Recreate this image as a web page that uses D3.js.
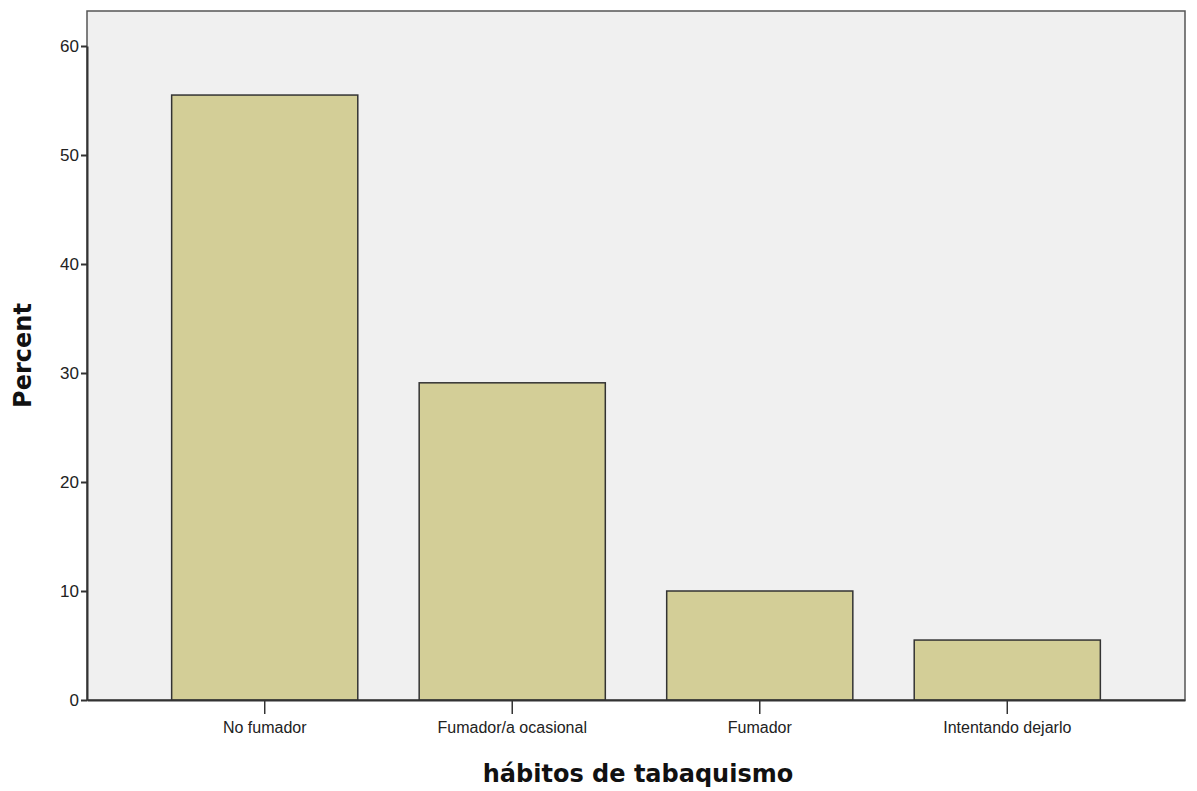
<!DOCTYPE html>
<html>
<head>
<meta charset="utf-8">
<script src="https://cdn.jsdelivr.net/npm/d3@7"></script>
<style>
  body { margin: 0; background: #fff; }
  svg { display: block; }
</style>
</head>
<body>
<svg width="1197" height="791"></svg>
<script>
// data
var categories = ["No fumador", "Fumador/a ocasional", "Fumador", "Intentando dejarlo"];
var percents = [55.5, 29.1, 10.0, 5.5];
var yTicks = [0, 10, 20, 30, 40, 50, 60];

var svg = d3.select("svg");

// plot frame (note: "top" is taken by window.top)
var plotLeft = 87, plotRight = 1185, plotTop = 11, plotBottom = 700;

var x = d3.scaleBand()
    .domain(categories)
    .range([plotLeft, plotRight])
    .paddingInner(0.248)
    .paddingOuter(0.342);

var y = d3.scaleLinear()
    .domain([0, 60])
    .range([plotBottom, plotBottom - 654]);

// plot background
svg.append("rect")
    .attr("x", plotLeft)
    .attr("y", plotTop)
    .attr("width", plotRight - plotLeft)
    .attr("height", plotBottom - plotTop)
    .style("fill", "#f0f0f0")
    .style("stroke", "#555")
    .style("stroke-width", 1.5);

// bars
svg.selectAll(".bar")
    .data(percents)
    .enter().append("rect")
    .attr("class", "bar")
    .attr("x", function(d, i) { return x(categories[i]); })
    .attr("y", function(d) { return y(d); })
    .attr("width", x.bandwidth())
    .attr("height", function(d) { return plotBottom - y(d); })
    .style("fill", "#d3ce97")
    .style("stroke", "#333")
    .style("stroke-width", 1.5);

// y axis
var yAxis = svg.append("g")
    .attr("transform", "translate(" + plotLeft + ",0)")
    .call(d3.axisLeft(y).tickValues(yTicks).tickSize(6).tickPadding(2).tickSizeOuter(0));
yAxis.select(".domain").attr("stroke", "#333").attr("stroke-width", 2);
yAxis.selectAll(".tick line").attr("stroke", "#333").attr("stroke-width", 2);
yAxis.selectAll("text")
    .style("font-family", "Liberation Sans, Arial, sans-serif")
    .style("font-size", "17px")
    .style("fill", "#222");

// x axis
var xAxis = svg.append("g")
    .attr("transform", "translate(0," + plotBottom + ")")
    .call(d3.axisBottom(x).tickSize(14).tickPadding(8).tickSizeOuter(0));
xAxis.select(".domain").attr("stroke", "#333").attr("stroke-width", 2);
xAxis.selectAll(".tick line").attr("stroke", "#333").attr("stroke-width", 1.5);
xAxis.selectAll("text")
    .style("font-family", "Liberation Sans, Arial, sans-serif")
    .style("font-size", "16px")
    .style("fill", "#222");

// axis titles
svg.append("text")
    .attr("transform", "translate(31," + (plotTop + plotBottom) / 2 + ") rotate(-90)")
    .attr("text-anchor", "middle")
    .style("font-family", "DejaVu Sans, Verdana, sans-serif")
    .style("font-weight", "bold")
    .style("font-size", "24px")
    .style("fill", "#111")
    .text("Percent");

svg.append("text")
    .attr("x", 638)
    .attr("y", 782)
    .attr("text-anchor", "middle")
    .style("font-family", "DejaVu Sans, Verdana, sans-serif")
    .style("font-weight", "bold")
    .style("font-size", "24px")
    .style("fill", "#111")
    .text("hábitos de tabaquismo");
</script>
</body>
</html>
